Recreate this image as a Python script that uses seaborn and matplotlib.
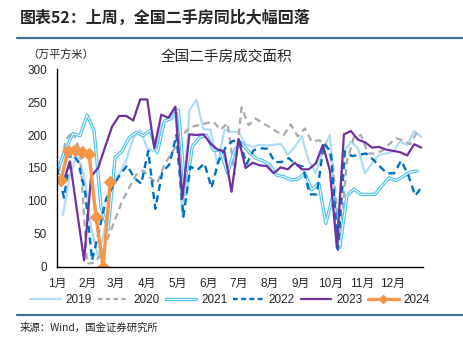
import numpy as np
import pandas as pd
import seaborn as sns
import matplotlib.pyplot as plt
from matplotlib.lines import Line2D
from matplotlib.legend_handler import HandlerTuple

# Weekly second-hand housing transaction area, nationwide (10k sq m)
years = ["2019", "2020", "2021", "2022", "2023", "2024"]
first_week = ["2019-01-07", "2020-01-03", "2021-01-03", "2022-01-01", "2023-01-07", "2024-01-05"]

v2019 = [79, 140, 168, 140, 60, 15, 60, 130, 140, 162, 195, 208, 180, 175, 215, 225,
         238, 78, 238, 253, 209, 208, 155, 208, 205, 205, 186, 182, 185, 184, 185, 187,
         170, 182, 198, 160, 142, 178, 200, 60, 175, 190, 180, 142, 157, 170, 172, 175,
         190, 185, 206, 197]
v2020 = [145, 193, 206, 175, 5, 6, 18, 45, 72, 100, 120, 140, 146, 135, 127, 155,
         172, 188, 205, 213, 215, 218, 220, 208, 218, 140, 242, 215, 225, 218, 212, 205,
         200, 216, 198, 210, 190, 192, 187, 155, 38, 160, 197, 200, 172, 172, 176, 186,
         195, 192, 186, 205]
v2021 = [152, 180, 202, 199, 230, 207, 90, 57, 166, 176, 196, 204, 199, 207, 173, 221,
         225, 238, 110, 183, 196, 200, 177, 177, 142, 177, 188, 175, 165, 161, 155, 139,
         137, 132, 133, 142, 117, 127, 66, 108, 30, 108, 118, 110, 110, 110, 123, 135,
         131, 137, 144, 145]
v2022 = [150, 105, 174, 160, 115, 10, 55, 103, 123, 140, 154, 135, 126, 176, 88, 144,
         155, 200, 76, 152, 147, 157, 120, 160, 181, 191, 192, 156, 177, 180, 179, 159,
         159, 165, 155, 152, 110, 110, 187, 175, 26, 175, 168, 170, 172, 163, 152, 142,
         142, 161, 140, 108, 122]
v2023 = [127, 160, 85, 10, 137, 150, 182, 213, 229, 229, 222, 254, 254, 180, 231, 226,
         243, 104, 201, 200, 201, 187, 178, 175, 114, 194, 150, 158, 154, 153, 142, 151,
         148, 158, 148, 148, 157, 185, 146, 29, 201, 206, 193, 189, 181, 182, 178, 176,
         174, 169, 186, 181]
v2024 = [132, 176, 178, 174, 171, 75, 0, 129]

values = [v2019, v2020, v2021, v2022, v2023, v2024]
month_labels = ["1月", "2月", "3月", "4月", "5月", "6月", "7月", "8月", "9月", "10月", "11月", "12月", ""]
month_days = [0, 31, 59, 90, 120, 151, 181, 212, 243, 273, 304, 334, 365]
y_ticks = [0, 50, 100, 150, 200, 250, 300]


def weekly_days(start, n):
    dates = pd.date_range(start, periods=n, freq="7D")
    return (dates.dayofyear - 1).to_numpy()


frames = []
for yr, fw, vals in zip(years, first_week, values):
    frames.append(pd.DataFrame({"year": yr, "day": weekly_days(fw, len(vals)), "area": vals}))
df = pd.concat(frames, ignore_index=True)

sns.set_style("white")
plt.rcParams["font.family"] = ["Liberation Sans", "Noto Sans CJK SC"]

fig = plt.figure(figsize=(4.63, 3.37), dpi=100)
ax = fig.add_axes([0.123, 0.208, 0.791, 0.587])

c2019 = "#AEDDF5"
c2020 = "#ABABAB"
c2021 = "#4FC3EE"
c2022 = "#0070C0"
c2023 = "#7030A0"
c2024 = "#F79646"

d = lambda y: df[df["year"] == y]

sns.lineplot(data=d("2019"), x="day", y="area", ax=ax, color=c2019, lw=1.6)
sns.lineplot(data=d("2020"), x="day", y="area", ax=ax, color=c2020, lw=1.6,
             linestyle=(0, (3, 2)))
sns.lineplot(data=d("2021"), x="day", y="area", ax=ax, color=c2021, lw=2.4)
sns.lineplot(data=d("2021"), x="day", y="area", ax=ax, color="white", lw=0.7)
sns.lineplot(data=d("2022"), x="day", y="area", ax=ax, color=c2022, lw=1.7,
             linestyle=(0, (3, 2)))
sns.lineplot(data=d("2023"), x="day", y="area", ax=ax, color=c2023, lw=1.6)
sns.lineplot(data=d("2024"), x="day", y="area", ax=ax, color=c2024, lw=2.4,
             marker="D", markersize=6, markeredgecolor=c2024)

ax.set_xlim(0, 365)
ax.set_ylim(0, 300)
ax.set_xticks(month_days)
ax.set_xticklabels(month_labels, fontsize=8.5)
ax.set_yticks(y_ticks)
ax.set_yticklabels([str(t) for t in y_ticks], fontsize=8.5)
ax.set_xlabel("")
ax.set_ylabel("")
for s in ["top", "right"]:
    ax.spines[s].set_visible(False)
for s in ["left", "bottom"]:
    ax.spines[s].set_color("black")
    ax.spines[s].set_linewidth(1.0)
ax.tick_params(axis="both", direction="out", length=4, width=1, color="black", pad=3)
ax.tick_params(axis="x", pad=4)

handles = [
    Line2D([], [], color=c2019, lw=1.6),
    Line2D([], [], color=c2020, lw=1.6, linestyle=(0, (2, 1.5))),
    (Line2D([], [], color=c2021, lw=2.4), Line2D([], [], color="white", lw=0.7)),
    Line2D([], [], color=c2022, lw=1.7, linestyle=(0, (2, 1.5))),
    Line2D([], [], color=c2023, lw=1.6),
    Line2D([], [], color=c2024, lw=2.4, marker="D", markersize=4),
]
fig.legend(handles, years, loc="center", bbox_to_anchor=(0.497, 0.11), ncol=6,
           frameon=False, fontsize=8.5, handlelength=2.6, handletextpad=0.4,
           columnspacing=0.5, handler_map={tuple: HandlerTuple(ndivide=1, pad=0)})

cjk = ["Noto Sans CJK SC", "DejaVu Sans"]
fig.text(0.043, 0.947, "图表52：上周，全国二手房同比大幅回落", family=cjk,
         fontsize=11.5, fontweight="bold", ha="left", va="center")
fig.add_artist(Line2D([0.037, 1.0], [0.887, 0.887], color="#3B7296", lw=1.6,
                      transform=fig.transFigure))
fig.text(0.058, 0.838, "（万平方米）", family=cjk, fontsize=8, ha="left", va="center")
fig.text(0.488, 0.832, "全国二手房成交面积", family=cjk, fontsize=10.5,
         ha="center", va="center")
fig.add_artist(Line2D([0.037, 1.0], [0.065, 0.065], color="#3B7296", lw=1.6,
                      transform=fig.transFigure))
fig.text(0.043, 0.027, "来源：Wind，国金证券研究所", family=cjk, fontsize=7.5,
         ha="left", va="center")

fig.savefig("out.png", dpi=100, facecolor="white")
